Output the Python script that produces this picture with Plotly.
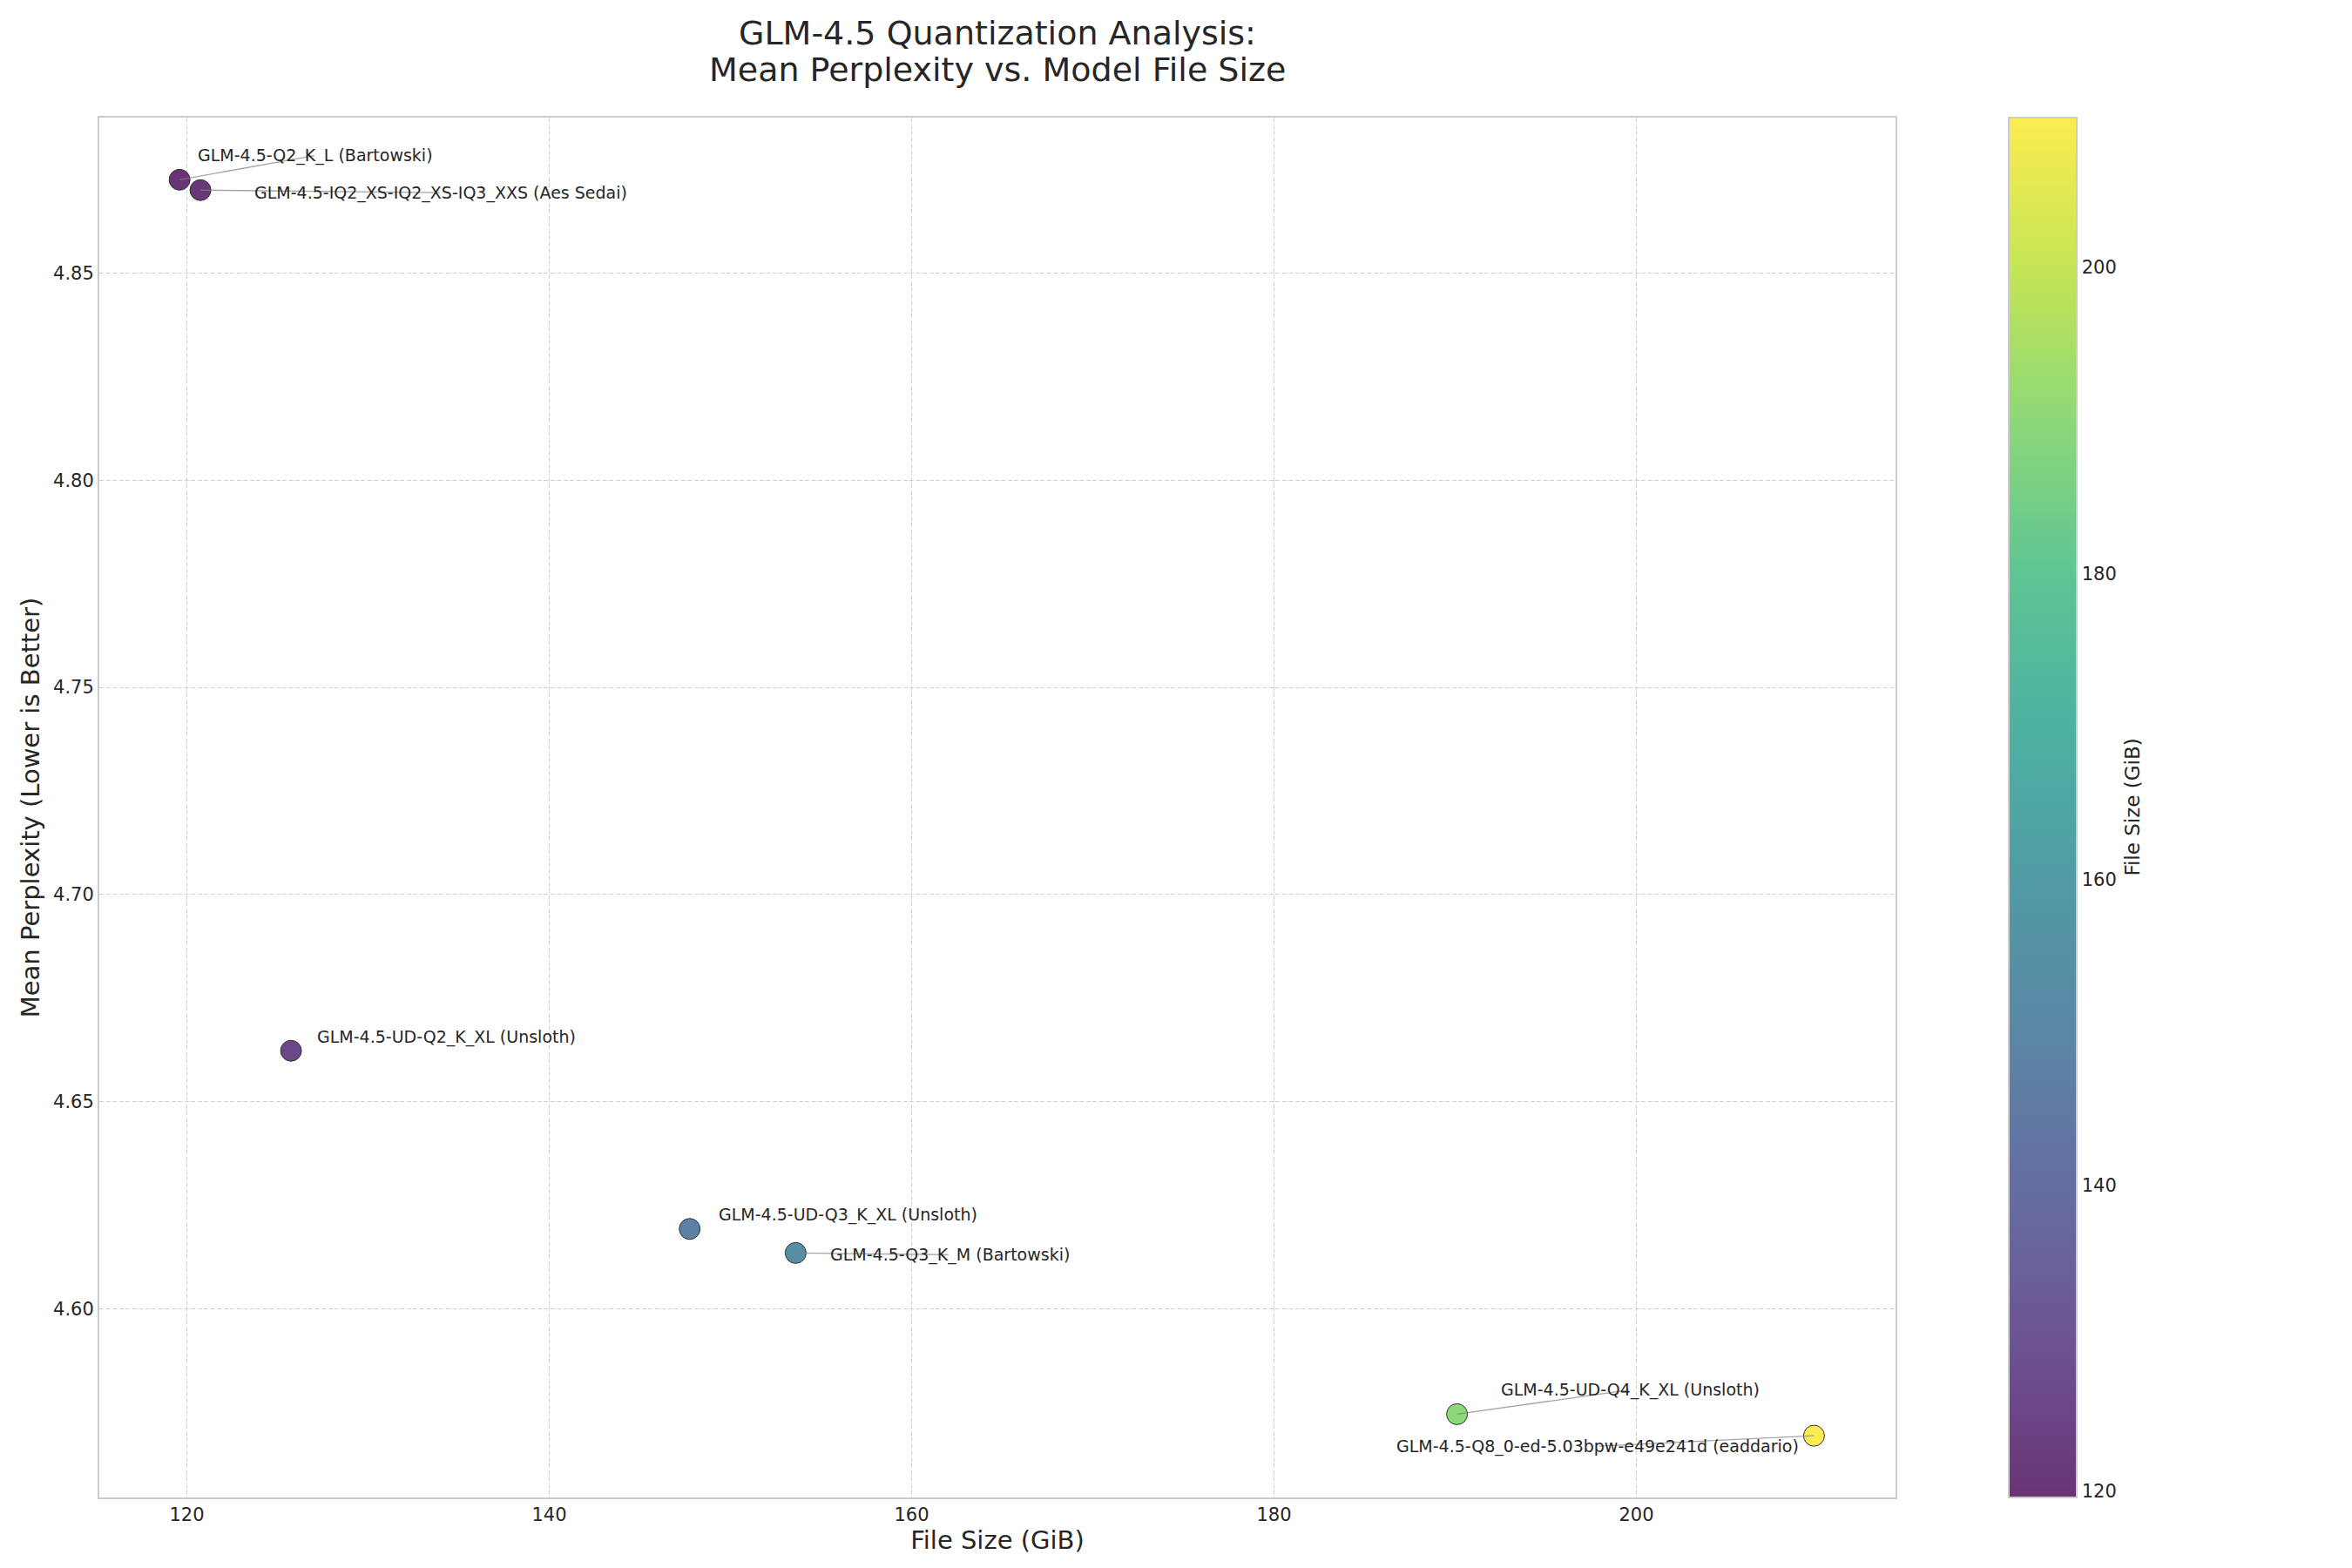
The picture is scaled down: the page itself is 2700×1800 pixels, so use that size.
"""GLM-4.5 quantization: mean perplexity vs. model file size."""

import plotly.express as px
import plotly.graph_objects as go

# data
models = [
    "GLM-4.5-Q2_K_L (Bartowski)",
    "GLM-4.5-IQ2_XS-IQ2_XS-IQ3_XXS (Aes Sedai)",
    "GLM-4.5-UD-Q2_K_XL (Unsloth)",
    "GLM-4.5-UD-Q3_K_XL (Unsloth)",
    "GLM-4.5-Q3_K_M (Bartowski)",
    "GLM-4.5-UD-Q4_K_XL (Unsloth)",
    "GLM-4.5-Q8_0-ed-5.03bpw-e49e241d (eaddario)",
]
file_size_gib = [119.6, 120.75, 125.75, 147.75, 153.6, 190.1, 209.8]
mean_perplexity = [4.8725, 4.8700, 4.6623, 4.6193, 4.6135, 4.5746, 4.5694]

# label placement (text centre offset from point, pixels) and leader lines
label_dx = [156, 276, 178, 182, 177, 199, -248]
label_dy = [-28, 3, -16, -16, 2, -28, 12]
leader = [True, True, False, False, True, True, True]

FONT = "DejaVu Sans"
TEXT = "#262626"
GRID = "#cfcfcf"
FRAME = "#cccccc"


def faded_viridis(alpha=0.8):
    """Viridis blended on white, like matplotlib alpha=0.8."""
    scale = []
    colors = px.colors.sequential.Viridis
    for i, hex_color in enumerate(colors):
        hex_color = hex_color.lstrip("#")
        rgb = [int(hex_color[k:k + 2], 16) for k in (0, 2, 4)]
        mixed = [round(alpha * c + (1 - alpha) * 255) for c in rgb]
        scale.append([i / (len(colors) - 1), f"rgb({mixed[0]},{mixed[1]},{mixed[2]})"])
    return scale


fig = go.Figure()
fig.add_trace(
    go.Scatter(
        x=file_size_gib,
        y=mean_perplexity,
        mode="markers",
        text=models,
        marker=dict(
            size=24,
            color=file_size_gib,
            colorscale=faded_viridis(),
            cmin=min(file_size_gib),
            cmax=max(file_size_gib),
            line=dict(color="#333333", width=1),
            colorbar=dict(
                x=1.063,
                xanchor="left",
                xpad=0,
                y=0,
                yanchor="bottom",
                ypad=0,
                len=1,
                lenmode="fraction",
                thickness=78,
                outlinecolor=FRAME,
                outlinewidth=2,
                tickvals=[120, 140, 160, 180, 200],
                ticks="",
                ticklabelposition="outside",
                tickfont=dict(family=FONT, size=21, color=TEXT),
            ),
        ),
        showlegend=False,
        hovertemplate="%{text}<br>%{x} GiB<br>%{y}<extra></extra>",
    )
)

# leader lines first, so the labels sit on top of them
for name, x, y, dx, dy, line in zip(
    models, file_size_gib, mean_perplexity, label_dx, label_dy, leader
):
    if line:
        fig.add_annotation(
            x=x,
            y=y,
            ax=dx,
            ay=dy,
            text="",
            showarrow=True,
            arrowhead=0,
            arrowwidth=1.3,
            arrowcolor="rgba(128,128,128,0.7)",
        )
for name, x, y, dx, dy in zip(
    models, file_size_gib, mean_perplexity, label_dx, label_dy
):
    fig.add_annotation(
        x=x,
        y=y,
        text=name,
        showarrow=False,
        xanchor="center",
        yanchor="middle",
        xshift=dx,
        yshift=-dy,
        font=dict(family=FONT, size=19, color=TEXT),
    )

# two-line title, placed line by line for tighter spacing
title_lines = ["GLM-4.5 Quantization Analysis:", "Mean Perplexity vs. Model File Size"]
for line_text, y_px in zip(title_lines, [38, 80]):
    fig.add_annotation(
        xref="paper",
        yref="paper",
        x=0.5,
        y=1 + (135 - y_px) / 1584,
        text=line_text,
        showarrow=False,
        xanchor="center",
        yanchor="middle",
        font=dict(family=FONT, size=38, color=TEXT),
    )

# colorbar title
fig.add_annotation(
    xref="paper",
    yref="paper",
    x=1.139,
    y=0.5,
    text="File Size (GiB)",
    textangle=-90,
    showarrow=False,
    font=dict(family=FONT, size=23, color=TEXT),
)

axis_common = dict(
    showgrid=True,
    gridcolor=GRID,
    griddash="5px,2.5px",
    gridwidth=1,
    showline=True,
    linecolor=FRAME,
    linewidth=2,
    mirror=True,
    zeroline=False,
    ticks="",
    automargin=False,
    tickfont=dict(family=FONT, size=21, color=TEXT),
)

fig.update_layout(
    width=2700,
    height=1800,
    plot_bgcolor="white",
    paper_bgcolor="white",
    margin=dict(l=114, r=524, t=135, b=81),
    font=dict(family=FONT, color=TEXT),
)
fig.update_xaxes(
    axis_common,
    range=[115.17, 214.3],
    tickvals=[120, 140, 160, 180, 200],
    title=dict(text="File Size (GiB)", font=dict(family=FONT, size=29, color=TEXT), standoff=6),
)
fig.update_yaxes(
    axis_common,
    range=[4.5545, 4.8875],
    tickvals=[4.60, 4.65, 4.70, 4.75, 4.80, 4.85],
    tickformat=".2f",
    title=dict(
        text="Mean Perplexity (Lower is Better)",
        font=dict(family=FONT, size=29, color=TEXT),
        standoff=7,
    ),
)

# drop the default page margin so the figure sits at the window origin
fig.write_html(
    "out.html",
    config={"displayModeBar": False},
    post_script="document.body.style.margin = '0';",
)
